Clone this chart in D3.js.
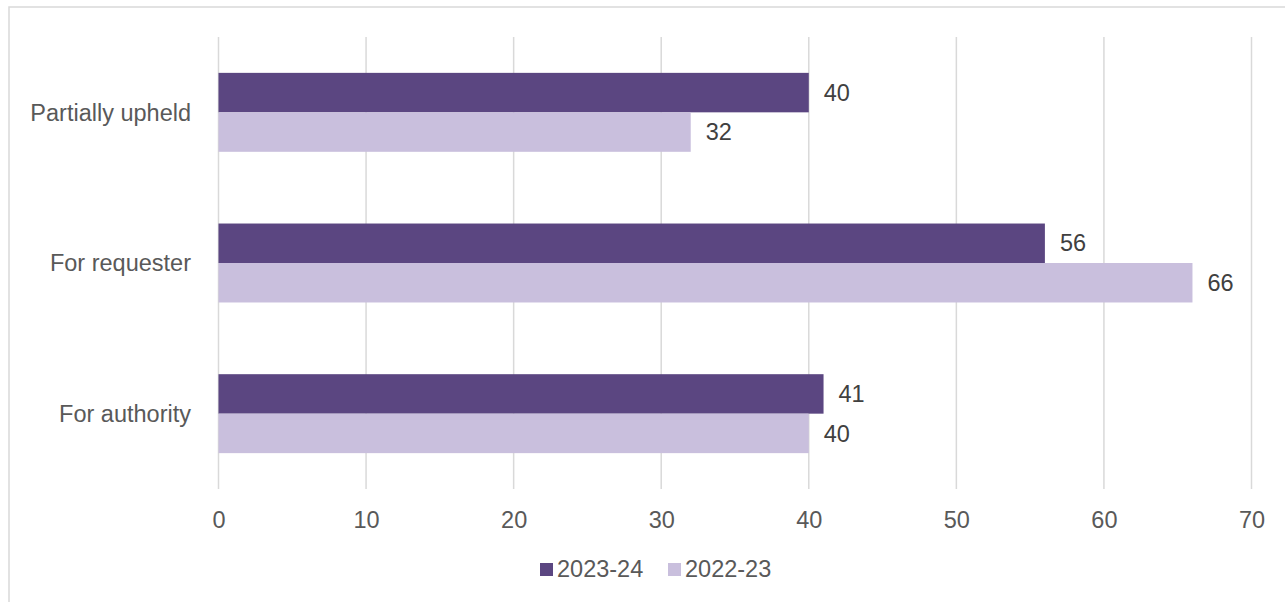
<!DOCTYPE html>
<html><head><meta charset="utf-8">
<script src="https://cdn.jsdelivr.net/npm/d3@7"></script>
<style>body{margin:0;background:#fff;}svg{display:block;font-family:"Liberation Sans",Arial,sans-serif;}</style>
</head><body>
<svg id="c" width="1285" height="602"></svg>
<script>
const categories = ["Partially upheld", "For requester", "For authority"];
const series = ["2023-24", "2022-23"];
const values2023 = [40, 56, 41];
const values2022 = [32, 66, 40];
const xTicks = [0, 10, 20, 30, 40, 50, 60, 70];
const colors = ["#5b4681", "#c9bfdd"];
const FS = 23.5;

const svg = d3.select("#c");
svg.append("rect").attr("x", 9).attr("y", 7).attr("width", 1290).attr("height", 610)
  .attr("fill", "none").attr("stroke", "#d9d9d9").attr("stroke-width", 1.5);

const x = d3.scaleLinear().domain([0, 70]).range([218.5, 1251.5]);
const y = d3.scaleBand().domain(categories).range([37, 489]).paddingInner(0.476).paddingOuter(0.238);
const y1 = d3.scaleBand().domain(series).range([0, y.bandwidth()]);

// gridlines
svg.append("g").selectAll("line").data(xTicks).join("line")
  .attr("x1", d => x(d)).attr("x2", d => x(d)).attr("y1", 37).attr("y2", 489)
  .attr("stroke", "#d9d9d9").attr("stroke-width", 1.5);

const data = categories.map((c, i) => ({c, vals: [values2023[i], values2022[i]]}));
const g = svg.append("g");
data.forEach(d => {
  d.vals.forEach((v, j) => {
    const yy = y(d.c) + y1(series[j]);
    g.append("rect").attr("x", x(0)).attr("y", yy).attr("width", x(v) - x(0)).attr("height", y1.bandwidth())
      .attr("fill", colors[j]);
    g.append("text").attr("x", x(v) + 15).attr("y", yy + y1.bandwidth() / 2).attr("dy", "0.35em")
      .attr("font-size", FS).attr("fill", "#404040").text(v);
  });
});

// category labels
svg.append("g").selectAll("text").data(categories).join("text")
  .attr("x", 191).attr("y", d => y(d) + y.bandwidth() / 2).attr("dy", "0.35em")
  .attr("text-anchor", "end").attr("font-size", FS).attr("fill", "#595959").text(d => d);

// x axis labels
const xAxis = d3.axisBottom(x).tickValues(xTicks).tickSize(0).tickPadding(0);
const ax = svg.append("g").attr("transform", "translate(0,520)").call(xAxis);
ax.select(".domain").remove();
ax.selectAll("text").attr("font-size", FS).attr("fill", "#595959").attr("dy", "0.35em")
  .attr("font-family", "Liberation Sans, Arial, sans-serif");

// legend
const legendX = [540, 668];
series.forEach((s, i) => {
  svg.append("rect").attr("x", legendX[i]).attr("y", 563).attr("width", 13).attr("height", 13).attr("fill", colors[i]);
  svg.append("text").attr("x", legendX[i] + 17).attr("y", 569).attr("dy", "0.35em")
    .attr("font-size", FS).attr("fill", "#595959").text(s);
});
</script>
</body></html>
